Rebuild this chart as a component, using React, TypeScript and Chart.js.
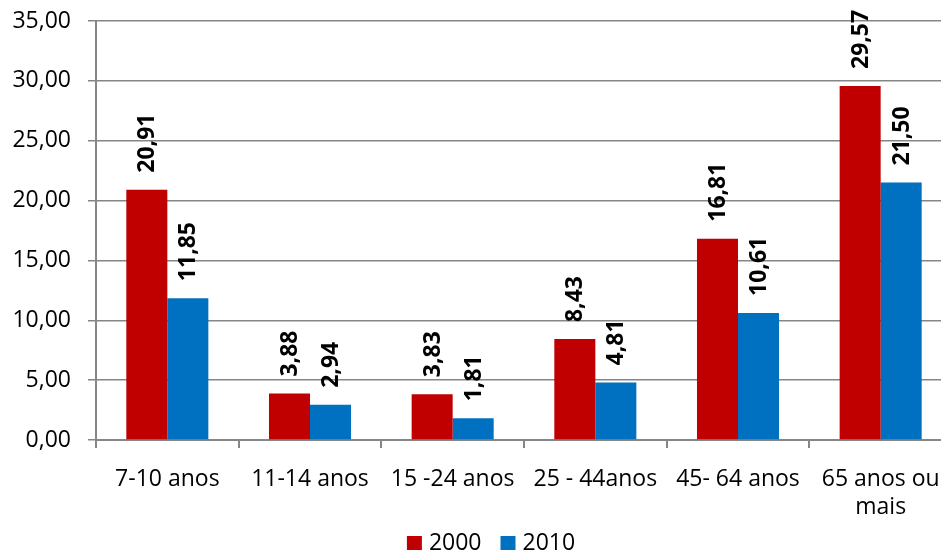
import React, { useEffect, useRef } from "react";
import { Chart, registerables } from "chart.js";

Chart.register(...registerables);

const categories: (string | string[])[] = [
  "7-10 anos",
  "11-14 anos",
  "15 -24 anos",
  "25 - 44anos",
  "45- 64 anos",
  ["65 anos ou", "mais"],
];
const series2000 = [20.91, 3.88, 3.83, 8.43, 16.81, 29.57];
const series2010 = [11.85, 2.94, 1.81, 4.81, 10.61, 21.5];
const seriesNames = ["2000", "2010"];
const seriesColors = ["#C00000", "#0070C0"];
const yMin = 0;
const yMax = 35;
const yStep = 5;

const FONT = "'Open Sans', sans-serif";
const fmt = (v: number) => v.toFixed(2).replace(".", ",");

const labelPlugin = {
  id: "rotLabels",
  afterDatasetsDraw(chart: any) {
    const ctx = chart.ctx;
    ctx.save();
    ctx.fillStyle = "#000";
    ctx.font = `bold 23px ${FONT}`;
    ctx.textAlign = "left";
    ctx.textBaseline = "middle";
    chart.data.datasets.forEach((ds: any, di: number) => {
      const meta = chart.getDatasetMeta(di);
      meta.data.forEach((el: any, i: number) => {
        ctx.save();
        ctx.translate(el.x + 1, el.y - 17);
        ctx.rotate(-Math.PI / 2);
        ctx.fillText(fmt(ds.data[i]), 0, 0);
        ctx.restore();
      });
    });
    ctx.restore();
  },
};

// Bottom legend drawn from the datasets (Excel-like spacing)
const legendPlugin = {
  id: "bottomLegend",
  afterDraw(chart: any) {
    const ctx = chart.ctx;
    const box = 15;
    const gapText = 7;
    const gapItem = 19;
    ctx.save();
    ctx.font = `23px ${FONT}`;
    ctx.textBaseline = "middle";
    ctx.textAlign = "left";
    const items = chart.data.datasets.map((ds: any) => ({
      text: ds.label,
      color: ds.backgroundColor,
      w: ctx.measureText(ds.label).width,
    }));
    const total =
      items.reduce((a: number, it: any) => a + box + gapText + it.w, 0) +
      gapItem * (items.length - 1);
    const cx = chart.width / 2 + 15;
    const cy = chart.height - 10;
    let x = cx - total / 2;
    items.forEach((it: any) => {
      ctx.fillStyle = it.color;
      ctx.fillRect(x, cy - 7, box, 14);
      x += box + gapText;
      ctx.fillStyle = "#000";
      ctx.fillText(it.text, x, cy);
      x += it.w + gapItem;
    });
    ctx.restore();
  },
};

export default function App() {
  const ref = useRef<HTMLCanvasElement>(null);
  useEffect(() => {
    if (!ref.current) return;
    const chart = new Chart(ref.current, {
      type: "bar",
      data: {
        labels: categories,
        datasets: [
          {
            label: seriesNames[0],
            data: series2000,
            backgroundColor: seriesColors[0],
            borderWidth: 0,
            categoryPercentage: 0.575,
            barPercentage: 1,
          },
          {
            label: seriesNames[1],
            data: series2010,
            backgroundColor: seriesColors[1],
            borderWidth: 0,
            categoryPercentage: 0.575,
            barPercentage: 1,
          },
        ],
      },
      options: {
        animation: false,
        responsive: false,
        maintainAspectRatio: false,
        layout: { padding: { top: 21, bottom: 0, left: 0, right: 0 } },
        plugins: {
          legend: { display: false },
          tooltip: { enabled: false },
        },
        scales: {
          x: {
            grid: {
              display: true,
              drawOnChartArea: false,
              drawTicks: true,
              tickLength: 8,
              offset: true,
              color: "#868686",
              lineWidth: 2,
            },
            border: { color: "#868686", width: 2 },
            ticks: {
              font: { family: FONT, size: 23 },
              color: "#000",
              maxRotation: 0,
              autoSkip: false,
              padding: 18,
            },
            afterFit: (s: any) => {
              s.height = 113;
              s.paddingLeft = 0;
              s.paddingRight = 0;
            },
          },
          y: {
            min: yMin,
            max: yMax,
            ticks: {
              stepSize: yStep,
              font: { family: FONT, size: 23 },
              color: "#000",
              padding: 17,
              callback: (v: any) => fmt(Number(v)),
            },
            grid: { color: "#868686", lineWidth: 1.5, tickLength: 8 },
            border: { color: "#868686", width: 2 },
            afterFit: (s: any) => {
              s.width = 96;
              s.paddingTop = 0;
              s.paddingBottom = 0;
            },
          },
        },
      },
      plugins: [labelPlugin, legendPlugin],
    });
    return () => chart.destroy();
  }, []);
  return (
    <div style={{ position: "fixed", left: 0, top: 0, width: 941, height: 553, overflow: "hidden", background: "#fff" }}>
      <canvas ref={ref} width={952} height={553} style={{ display: "block" }} />
    </div>
  );
}
